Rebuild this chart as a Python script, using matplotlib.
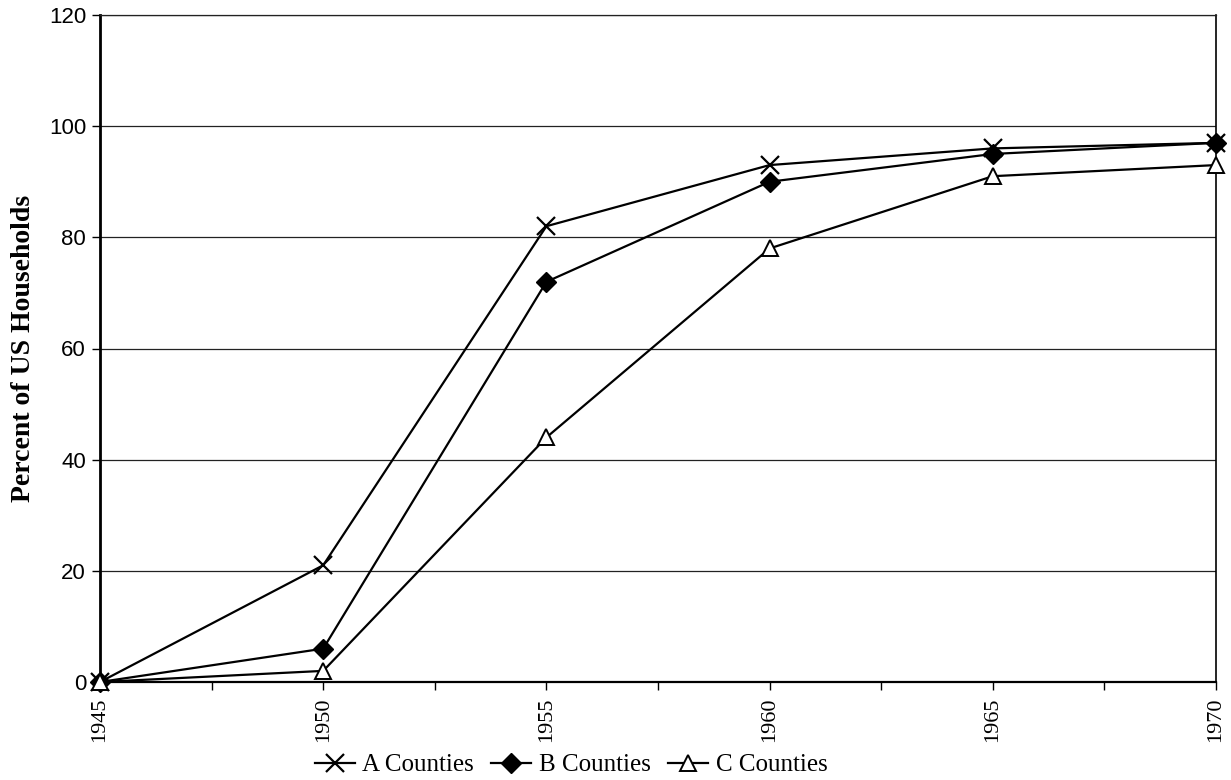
import matplotlib
matplotlib.use("Agg")
import matplotlib.pyplot as plt
from matplotlib.ticker import MultipleLocator

years = [1945, 1950, 1955, 1960, 1965, 1970]
a_counties = [0, 21, 82, 93, 96, 97]
b_counties = [0, 6, 72, 90, 95, 97]
c_counties = [0, 2, 44, 78, 91, 93]
series_labels = ["A Counties", "B Counties", "C Counties"]
y_ticks = [0, 20, 40, 60, 80, 100, 120]

serif = ["Liberation Serif", "DejaVu Serif"]
sans = ["Liberation Sans", "DejaVu Sans"]

fig = plt.figure(figsize=(12.31, 7.80), dpi=100)
ax = fig.add_axes([100 / 1231, 98 / 780, 1116 / 1231, 667 / 780])

ax.set_xlim(1945, 1970)
ax.set_ylim(0, 120)

# horizontal gridlines
for v in y_ticks[1:]:
    ax.axhline(v, color="#222222", lw=0.9, zorder=1)

line_kw = dict(color="black", lw=1.6, clip_on=False, zorder=3)
ax.plot(years, a_counties, marker="x", ms=13, mew=1.6, label=series_labels[0], **line_kw)
ax.plot(years, b_counties, marker="D", ms=10.5, mfc="black", mec="black", label=series_labels[1], **line_kw)
ax.plot(years, c_counties, marker="^", ms=11.5, mfc="white", mec="black", mew=1.4, label=series_labels[2], **line_kw)

# axes frame
ax.spines["left"].set_linewidth(2.0)
ax.spines["bottom"].set_linewidth(1.6)
ax.spines["right"].set_linewidth(1.2)
ax.spines["top"].set_linewidth(0.9)
ax.spines["top"].set_color("#222222")

ax.set_yticks(y_ticks)
ax.set_xticks(years)
ax.xaxis.set_minor_locator(MultipleLocator(2.5))
ax.tick_params(axis="y", direction="out", length=6, width=1, pad=4, labelsize=16)
ax.tick_params(axis="x", which="both", direction="out", length=6, width=1, pad=5)
for t in ax.get_yticklabels():
    t.set_family(sans)
ax.set_xticklabels([str(y) for y in years], rotation=90, family=serif, fontsize=16)

ax.set_ylabel("Percent of US Households", family=serif, fontweight="bold", fontsize=20)
ax.yaxis.set_label_coords(-64 / 1116, 0.5)

fig.legend(loc="center", bbox_to_anchor=(571 / 1231, 1 - 765 / 780), ncol=3, frameon=False,
           prop={"family": serif, "size": 18}, handlelength=1.6, handletextpad=0.3,
           columnspacing=0.7, borderpad=0)

fig.savefig("out.png", dpi=100)
